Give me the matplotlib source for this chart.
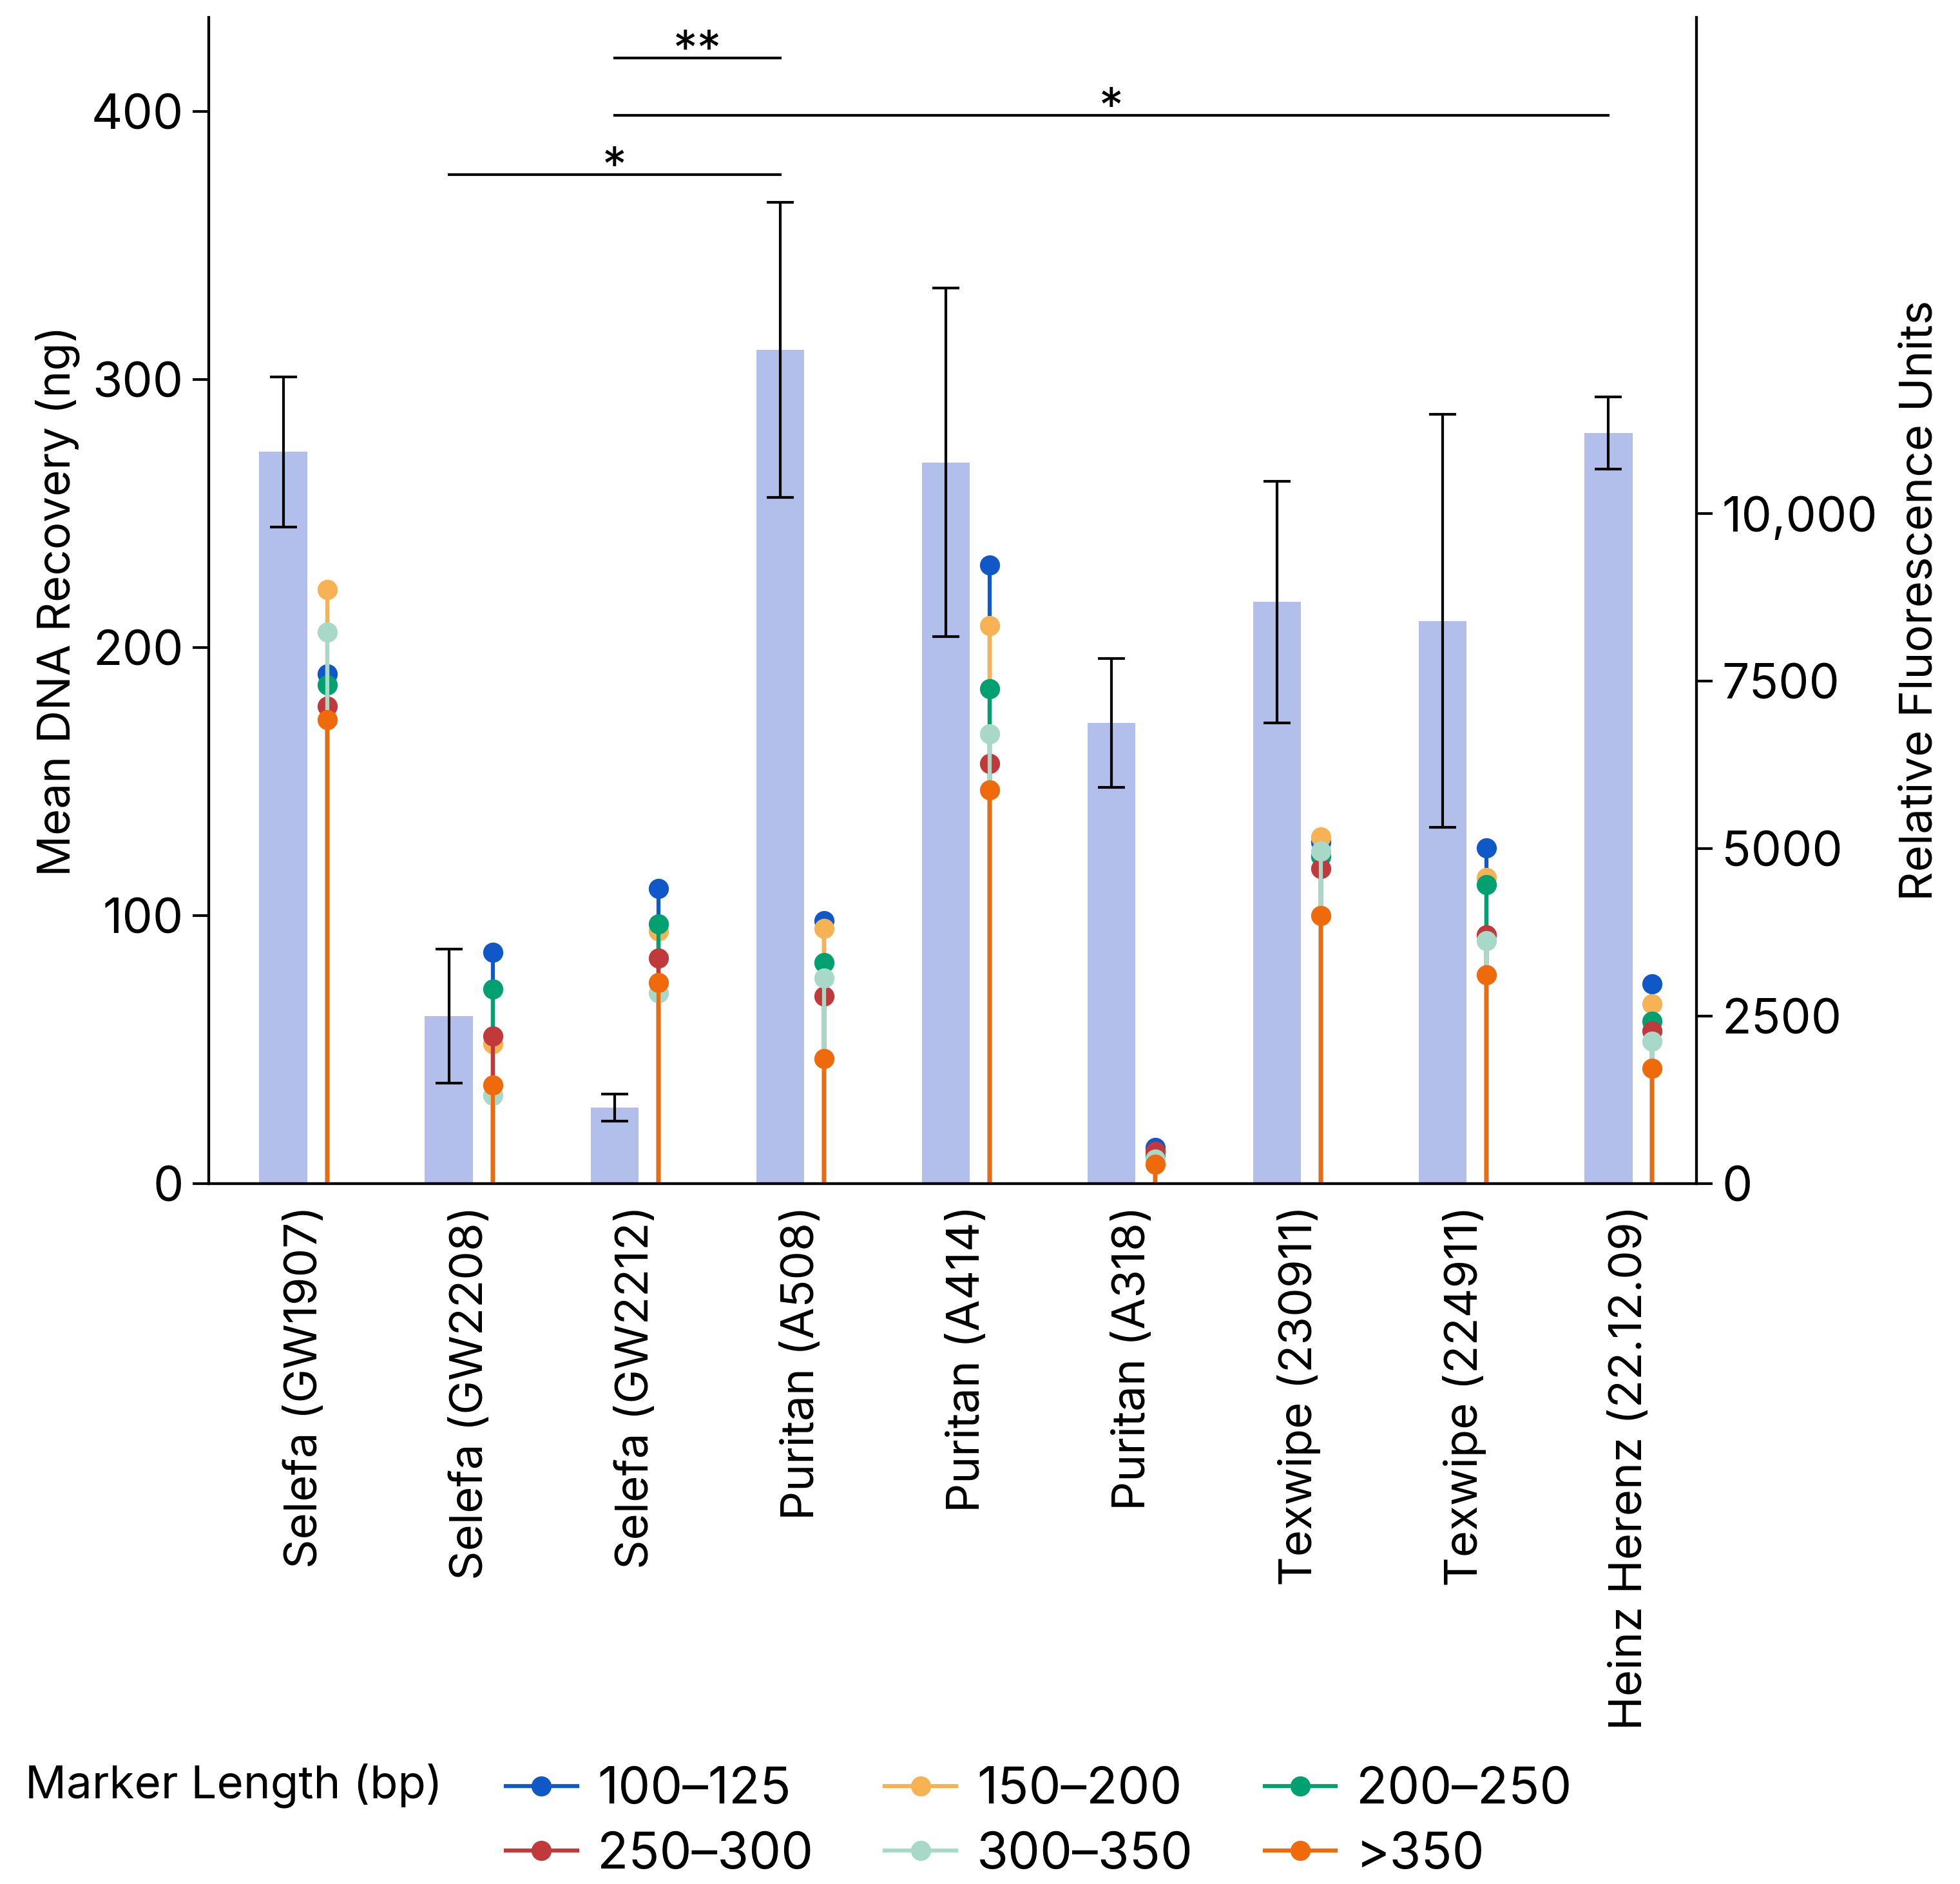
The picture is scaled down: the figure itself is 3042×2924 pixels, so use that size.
import numpy as np
import matplotlib
matplotlib.use("Agg")
import matplotlib.pyplot as plt
from matplotlib.lines import Line2D
from matplotlib.ticker import FuncFormatter

plt.rcParams["font.family"] = ["Inter", "DejaVu Sans"]
plt.rcParams["font.size"] = 17

swabs = ["Selefa (GW1907)", "Selefa (GW2208)", "Selefa (GW2212)", "Puritan (A508)",
         "Puritan (A414)", "Puritan (A318)", "Texwipe (230911)", "Texwipe (224911)",
         "Heinz Herenz (22.12.09)"]
mean_dna = [273, 62.5, 28.5, 311, 269, 172, 217, 210, 280]
dna_err = [28, 25, 5, 55, 65, 24, 45, 77, 13.5]

marker_labels = ["100–125", "150–200", "200–250", "250–300", "300–350", ">350"]
marker_colors = ["#1058c8", "#f7b254", "#00a070", "#c0393b", "#a8d8c8", "#ee6a0a"]
rfu_100_125 = [7612, 3451, 4403, 3925, 9230, 538, 5100, 5011, 2986]
rfu_150_200 = [8862, 2090, 3769, 3812, 8330, 450, 5175, 4573, 2688]
rfu_200_250 = [7444, 2910, 3881, 3302, 7388, 420, 4891, 4464, 2429]
rfu_250_300 = [7127, 2201, 3368, 2806, 6269, 480, 4704, 3715, 2285]
rfu_300_350 = [8228, 1325, 2854, 3069, 6716, 374, 4963, 3630, 2131]
rfu_over_350 = [6922, 1474, 3004, 1866, 5877, 288, 4000, 3120, 1728]
rfu_series = [rfu_100_125, rfu_150_200, rfu_200_250, rfu_250_300, rfu_300_350, rfu_over_350]

# significance brackets: (from swab, to swab, height in ng, label)
sig_pairs = [(2, 3, 420, "**"), (2, 8, 398.5, "*"), (1, 3, 376.5, "*")]

fig = plt.figure(figsize=(10.14, 9.7467), dpi=300)
ax = fig.add_axes([0.1065, 0.3716, 0.8654 - 0.1065, 0.9907 - 0.3716])
ax2 = ax.twinx()

x = np.arange(len(swabs))
bar_x = x - 0.13
stem_x = x + 0.135

ax.bar(bar_x, mean_dna, width=0.29, color="#b2bfea", zorder=1)
ax.errorbar(bar_x, mean_dna, yerr=dna_err, fmt="none", ecolor="black",
            elinewidth=1.0, capsize=5, capthick=1.0, zorder=3)

for x0, x1, h, lab in sig_pairs:
    ax.plot([bar_x[x0], bar_x[x1]], [h, h], color="black", lw=1.0)
    ax.text((bar_x[x0] + bar_x[x1]) / 2, h + 2, lab, ha="center", va="center", fontsize=18)

for vals, col in zip(rfu_series, marker_colors):
    ax2.vlines(stem_x, 0, vals, color=col, lw=1.5)
    ax2.plot(stem_x, vals, "o", color=col, ms=7.5, mec="none")

ax.set_xlim(-0.58, 8.40)
ax.set_ylim(0, 435)
ax2.set_ylim(0, 435 * 40)
ax.set_yticks([0, 100, 200, 300, 400])
ax2.set_yticks([0, 2500, 5000, 7500, 10000])
ax2.yaxis.set_major_formatter(FuncFormatter(lambda v, p: f"{int(v):,}" if v >= 10000 else f"{int(v)}"))

ax.set_xticks(x)
ax.set_xticklabels(swabs, rotation=90)
ax.tick_params(axis="x", length=0, pad=8)
ax.tick_params(axis="y", length=6, width=1.0, labelsize=18)
ax2.tick_params(axis="y", length=6, width=1.0, labelsize=18)

ax.set_ylabel("Mean DNA Recovery (ng)", labelpad=4)
ax2.set_ylabel("Relative Fluorescence Units", labelpad=8)

for a in (ax, ax2):
    a.spines["top"].set_visible(False)
    for s in a.spines.values():
        s.set_linewidth(1.0)

handles = [Line2D([0], [0], color=c, lw=1.5, marker="o", ms=7.5, mec="none") for c in marker_colors]
# legend fills column-wise, reorder so rows read left to right
order = [0, 3, 1, 4, 2, 5]
fig.text(0.0128, 0.0524, "Marker Length (bp)", ha="left", va="center")
fig.legend([handles[i] for i in order], [marker_labels[i] for i in order], ncol=3,
           loc="center left", bbox_to_anchor=(0.258, 0.0326), fontsize=19,
           frameon=False, handlelength=1.4, handletextpad=0.4, columnspacing=1.4,
           labelspacing=0.34, borderpad=0, borderaxespad=0)

fig.savefig("out.png", dpi=300)
